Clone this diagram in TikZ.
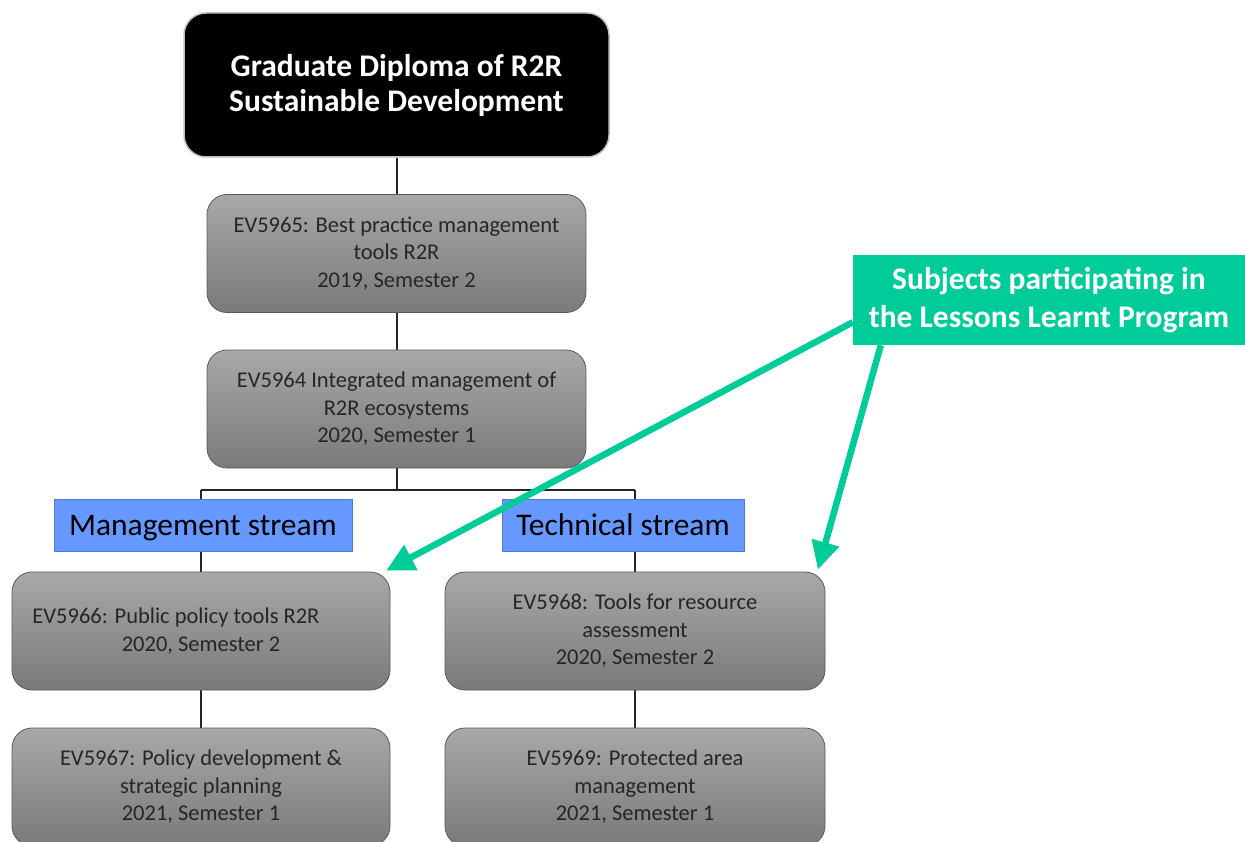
\documentclass[tikz,border=0pt]{standalone}
\usepackage{fontspec}
\setmainfont{Carlito}
\usetikzlibrary{arrows.meta,backgrounds,calc}
\definecolor{boxtop}{RGB}{168,168,168}
\definecolor{boxbot}{RGB}{122,122,122}
\definecolor{boxline}{RGB}{90,90,90}
\definecolor{streamblue}{RGB}{102,153,255}
\definecolor{lessongreen}{RGB}{0,204,153}
\tikzset{
  course/.style={rounded corners=20pt, draw=boxline, line width=0.8pt,
    top color=boxtop, bottom color=boxbot, minimum width=379pt, minimum height=118pt,
    align=center, text=black!85, font=\fontsize{22.5}{27.5}\selectfont, inner sep=0pt},
  titlebox/.style={rounded corners=22pt, fill=black, draw=black!25, line width=1.5pt,
    minimum width=425pt, minimum height=144pt, align=center, text=white,
    font=\fontsize{31.5}{35}\selectfont\bfseries, inner sep=0pt},
  streamlabel/.style={fill=streamblue, draw=streamblue!80!black, line width=0.5pt,
    minimum height=52pt, inner sep=0pt, text height=24pt, text depth=4pt,
    font=\fontsize{31.5}{34}\selectfont, text=black},
  lessonbox/.style={fill=lessongreen, minimum width=392pt, minimum height=90pt,
    align=center, text=white, font=\fontsize{31.5}{38}\selectfont\bfseries, inner sep=0pt},
  tree/.style={draw=black!85, line width=2pt},
  greenarrow/.style={draw=lessongreen, line width=6.5pt,
    -{Triangle[length=28pt,width=27pt]}, shorten >=2pt}
}
\begin{document}
\begin{tikzpicture}[x=1pt,y=-1pt]
\useasboundingbox (0,0) rectangle (1245,842);
\begin{scope}
\clip (0,0) rectangle (1245,842);
\node[titlebox] (top) at (396.5,85) {Graduate Diploma of R2R\\Sustainable Development};
\node[course] (ev65) at (396.5,253.5) {EV5965: Best practice management\\tools R2R\\2019, Semester 2};
\node[course] (ev64) at (396.5,409) {EV5964 Integrated management of\\R2R ecosystems\\2020, Semester 1};
\node[course, minimum width=378pt] (ev66) at (201,631) {EV5966: Public policy tools R2R\hspace*{50pt}\\2020, Semester 2};
\node[course, minimum width=378pt] (ev67) at (201,787) {EV5967: Policy development \&\\strategic planning\\2021, Semester 1};
\node[course, minimum width=380pt] (ev68) at (635,631) {EV5968: Tools for resource\\assessment\\2020, Semester 2};
\node[course, minimum width=380pt] (ev69) at (635,787) {EV5969: Protected area\\management\\2021, Semester 1};
\node[streamlabel, minimum width=298pt] (mgmt) at (203,525) {Management stream};
\node[streamlabel, minimum width=242pt] (tech) at (623,525) {Technical stream};
\node[lessonbox] (lessons) at (1049,300) {Subjects participating in\\the Lessons Learnt Program};
\coordinate (split) at (396.5,490);
\begin{scope}[on background layer]
\draw[tree] (top.south) -- (ev65.north);
\draw[tree] (ev65.south) -- (ev64.north);
\draw[tree] (ev64.south) -- (split);
\draw[tree] (ev66.north |- split) -- (ev68.north |- split);
\draw[tree] (ev66.north |- split) -- (ev66.north);
\draw[tree] (ev68.north |- split) -- (ev68.north);
\draw[tree] (ev66.south) -- (ev67.north);
\draw[tree] (ev68.south) -- (ev69.north);
\end{scope}
\draw[greenarrow] ($(lessons.south west)+(0,-23)$) -- ($(ev66.north east)+(-6,0)$);
\draw[greenarrow] ($(lessons.south west)+(28,0)$) -- ($(ev68.north east)+(-8,0)$);
\end{scope}
\end{tikzpicture}
\end{document}
